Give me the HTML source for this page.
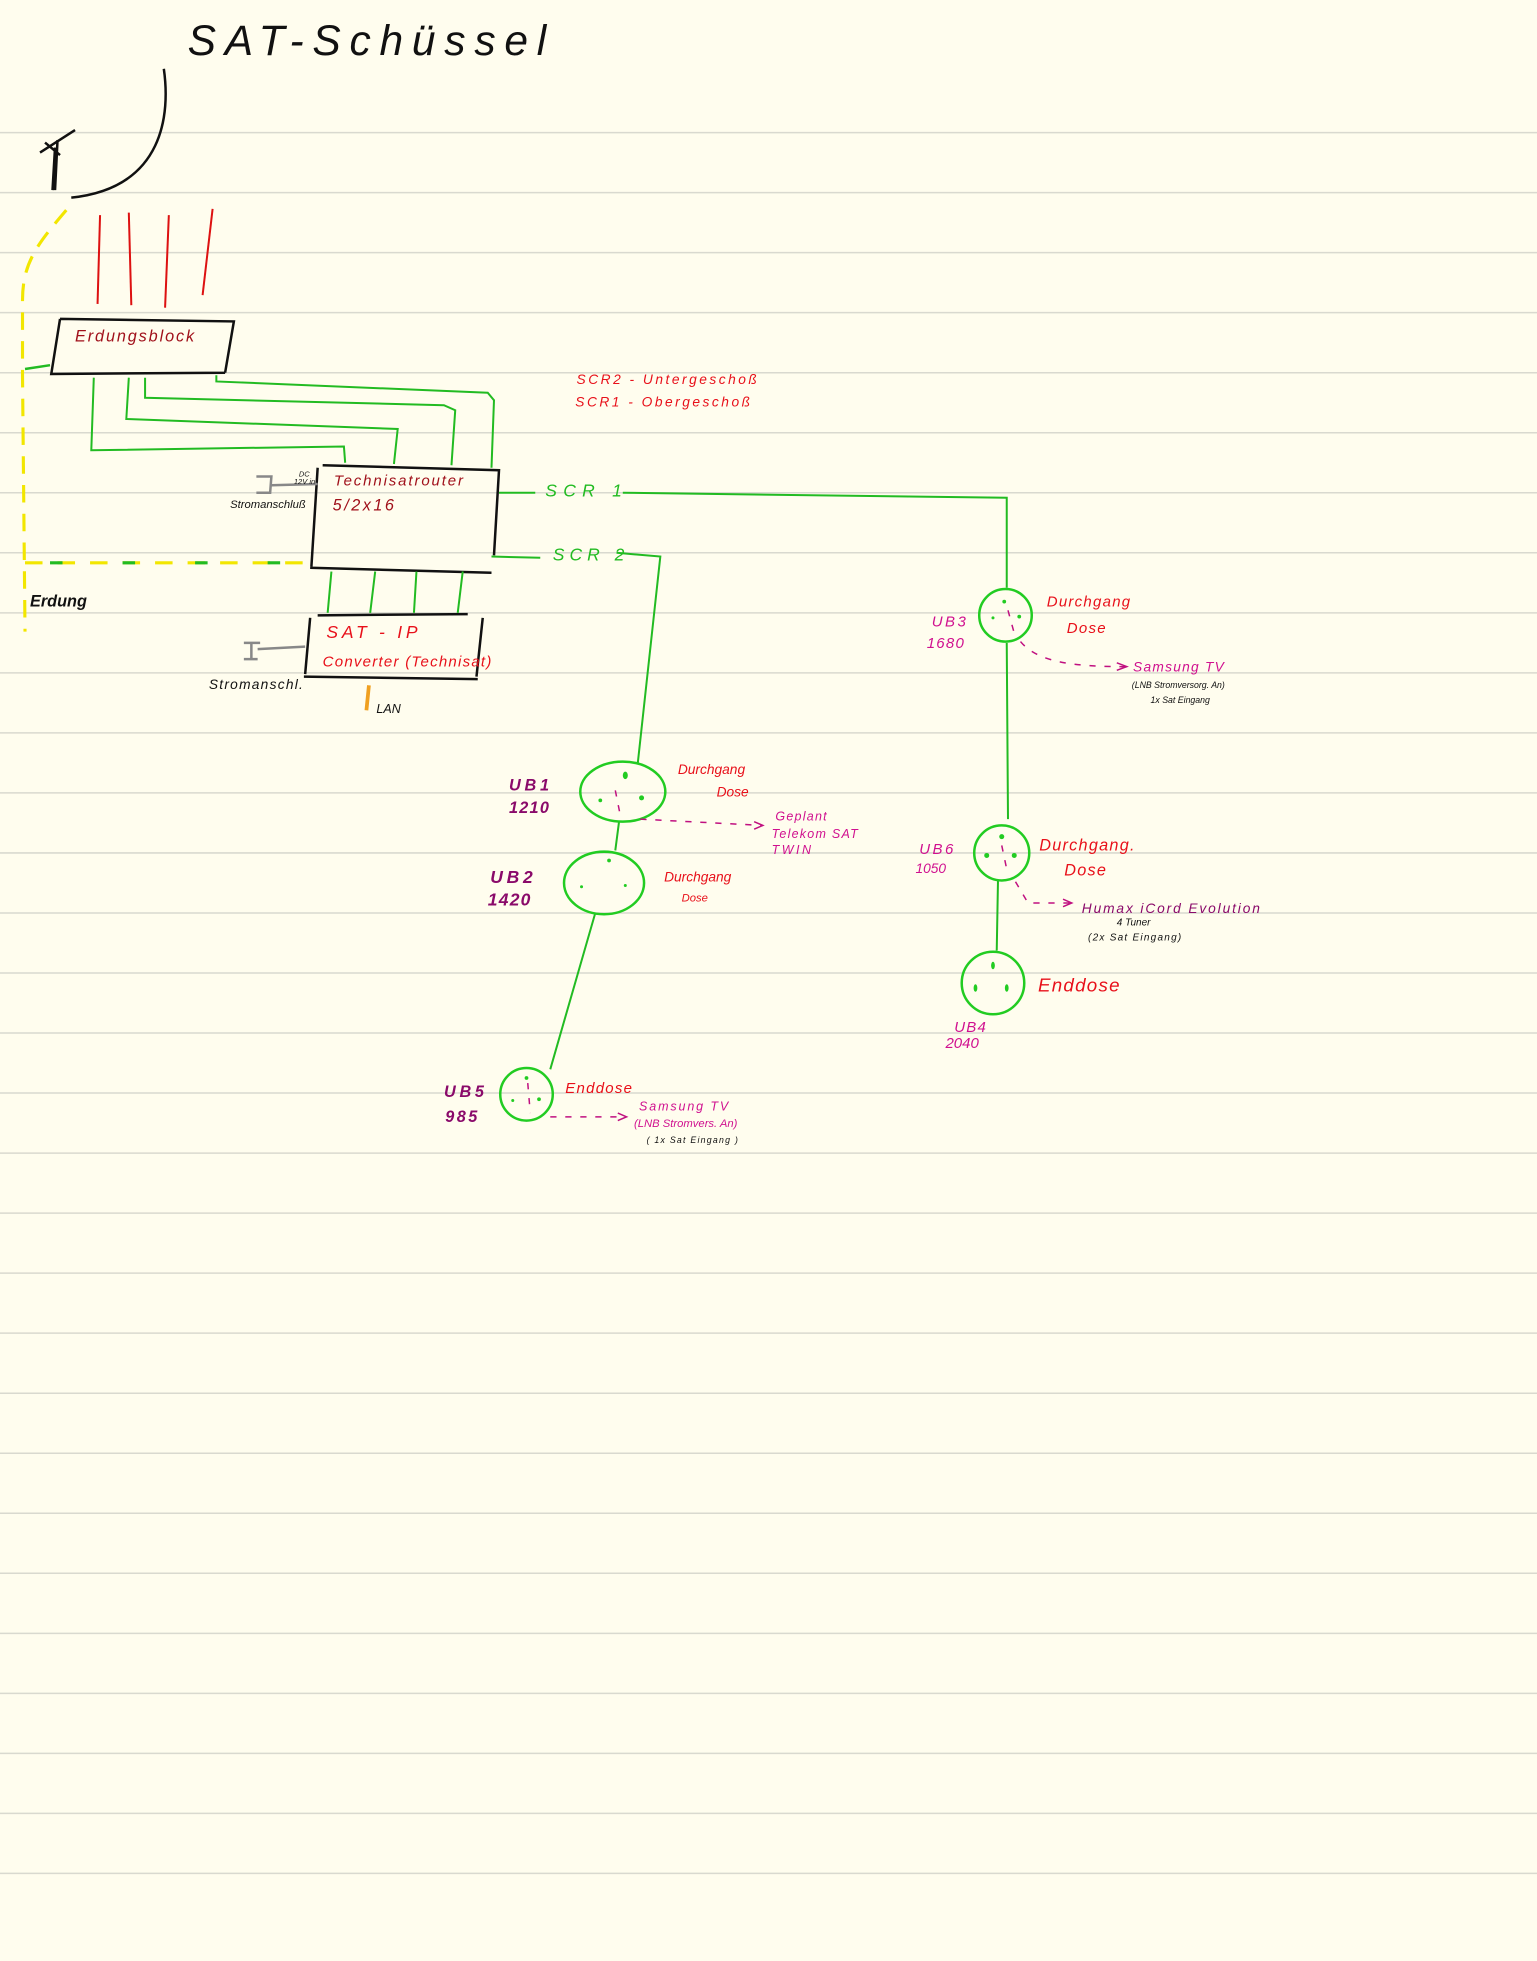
<!DOCTYPE html>
<html><head><meta charset="utf-8">
<style>
html,body{margin:0;padding:0;background:#fffdee;}
svg{display:block;}
text{font-family:"Liberation Sans",sans-serif;font-style:italic;}
.r{fill:#e8101a;}
.dr{fill:#a0101a;}
.m{fill:#d0108f;}
.p{fill:#8a0a6a;font-weight:bold;}
.g{fill:#22bb22;}
.k{fill:#111;}
</style></head>
<body>
<svg width="1537" height="1961" viewBox="0 0 1229 1568" xmlns="http://www.w3.org/2000/svg">
<rect width="1229" height="1568" fill="#fffdee"/>
<g stroke="#d9d9cf" stroke-width="1.2">
<line x1="0" y1="106" x2="1229" y2="106"/><line x1="0" y1="154" x2="1229" y2="154"/><line x1="0" y1="202" x2="1229" y2="202"/><line x1="0" y1="250" x2="1229" y2="250"/><line x1="0" y1="298" x2="1229" y2="298"/><line x1="0" y1="346" x2="1229" y2="346"/><line x1="0" y1="394" x2="1229" y2="394"/><line x1="0" y1="442" x2="1229" y2="442"/><line x1="0" y1="490" x2="1229" y2="490"/><line x1="0" y1="538" x2="1229" y2="538"/><line x1="0" y1="586" x2="1229" y2="586"/><line x1="0" y1="634" x2="1229" y2="634"/><line x1="0" y1="682" x2="1229" y2="682"/><line x1="0" y1="730" x2="1229" y2="730"/><line x1="0" y1="778" x2="1229" y2="778"/><line x1="0" y1="826" x2="1229" y2="826"/><line x1="0" y1="874" x2="1229" y2="874"/><line x1="0" y1="922" x2="1229" y2="922"/><line x1="0" y1="970" x2="1229" y2="970"/><line x1="0" y1="1018" x2="1229" y2="1018"/><line x1="0" y1="1066" x2="1229" y2="1066"/><line x1="0" y1="1114" x2="1229" y2="1114"/><line x1="0" y1="1162" x2="1229" y2="1162"/><line x1="0" y1="1210" x2="1229" y2="1210"/><line x1="0" y1="1258" x2="1229" y2="1258"/><line x1="0" y1="1306" x2="1229" y2="1306"/><line x1="0" y1="1354" x2="1229" y2="1354"/><line x1="0" y1="1402" x2="1229" y2="1402"/><line x1="0" y1="1450" x2="1229" y2="1450"/><line x1="0" y1="1498" x2="1229" y2="1498"/>
</g>

<text x="150" y="44" class="k" font-size="34" letter-spacing="7">SAT-Schüssel</text>

<g fill="none" stroke="#111" stroke-width="2">
<path d="M131,55 C136,90 132,150 57,158"/>
<path d="M44,152 L46,112 M42,152 L44,118 M32,122 L60,104 M36,114 L48,124"/>
</g>

<path d="M53,168 C30,195 18,210 18,240 L18,300 L20,505" fill="none" stroke="#f2e600" stroke-width="2.5" stroke-dasharray="14,9"/>
<path d="M20,450 L245,450" fill="none" stroke="#f2e600" stroke-width="2.5" stroke-dasharray="14,12"/>
<path d="M20,450 L245,450" fill="none" stroke="#22bb22" stroke-width="2.5" stroke-dasharray="10,48" stroke-dashoffset="-20"/>
<path d="M20,295 L40,292" stroke="#22bb22" stroke-width="2" fill="none"/>

<g stroke="#dd1111" stroke-width="1.6" fill="none">
<line x1="80" y1="172" x2="78" y2="243"/><line x1="103" y1="170" x2="105" y2="244"/><line x1="135" y1="172" x2="132" y2="246"/><line x1="170" y1="167" x2="162" y2="236"/>
</g>

<g stroke="#111" stroke-width="2" fill="none">
<path d="M48,255 L187,257 L180,298 M48,255 L41,299 L180,298"/>
<path d="M258,372 L399,376 L395,444 M254,374 L249,453 M248,454 L393,458"/>
<path d="M254,492 L374,491 M248,494 L244,539 M386,494 L381,541 M243,541 L382,543"/>
</g>
<text x="60" y="273" class="dr" font-size="13" letter-spacing="1.5">Erdungsblock</text>

<g stroke="#22bb22" stroke-width="1.6" fill="none">
<path d="M75,302 L73,360 L275,357 L276,370"/>
<path d="M103,302 L101,335 L318,343 L315,371"/>
<path d="M116,302 L116,318 L355,324 L364,328 L361,372"/>
<path d="M173,300 L173,305 L390,314 L395,320 L393,374"/>
<path d="M265,457 L262,490 M300,457 L296,490 M333,457 L331,490 M370,457 L366,490"/>
<path d="M399,394 L428,394 M498,394 L805,398 L805,470"/>
<path d="M393,445 L432,446 M493,442 L528,445 L510,610"/>
<path d="M805,514 L806,655 M798,704 L797,760"/>
<path d="M495,657 L492,680 M476,730 L440,855"/>
</g>
<path d="M295,548 L293,568" stroke="#f0a020" stroke-width="3"/>

<g stroke="#888" stroke-width="2" fill="none">
<path d="M205,381 L217,381 L216,394 L205,394 M217,388 L254,387"/>
<path d="M195,514 L208,514 M201,514 L201,527 M195,527 L206,527 M206,519 L244,517"/>
</g>

<text x="267" y="388" class="dr" font-size="12" letter-spacing="1.5">Technisatrouter</text>
<text x="266" y="408" class="dr" font-size="13" letter-spacing="2">5/2x16</text>
<text x="239" y="381" class="k" font-size="6">DC</text>
<text x="235" y="387" class="k" font-size="6">12V in</text>
<text x="184" y="406" class="k" font-size="9">Stromanschluß</text>
<text x="261" y="510" class="r" font-size="14" letter-spacing="3">SAT - IP</text>
<text x="258" y="533" class="r" font-size="12" letter-spacing="1">Converter (Technisat)</text>
<text x="167" y="551" class="k" font-size="11" letter-spacing="1">Stromanschl.</text>
<text x="301" y="570" class="k" font-size="10">LAN</text>
<text x="24" y="485" class="k" font-size="13" font-weight="bold">Erdung</text>

<text x="436" y="397" class="g" font-size="14" letter-spacing="5">SCR 1</text>
<text x="442" y="448" class="g" font-size="14" letter-spacing="4">SCR 2</text>
<text x="461" y="307" class="r" font-size="11" letter-spacing="2">SCR2 - Untergeschoß</text>
<text x="460" y="325" class="r" font-size="11" letter-spacing="2">SCR1 - Obergeschoß</text>

<g stroke="#22cc22" stroke-width="2" fill="none">
<ellipse cx="804" cy="492" rx="21" ry="21"/>
<ellipse cx="801" cy="682" rx="22" ry="22"/>
<ellipse cx="794" cy="786" rx="25" ry="25"/>
<ellipse cx="498" cy="633" rx="34" ry="24"/>
<ellipse cx="483" cy="706" rx="32" ry="25"/>
<ellipse cx="421" cy="875" rx="21" ry="21"/>
</g>
<g fill="#22cc22">
<circle cx="803" cy="481" r="1.5"/><circle cx="794" cy="494" r="1.2"/><circle cx="815" cy="493" r="1.5"/>
<circle cx="801" cy="669" r="2"/><circle cx="789" cy="684" r="2"/><circle cx="811" cy="684" r="2"/>
<ellipse cx="794" cy="772" rx="1.5" ry="3"/><ellipse cx="780" cy="790" rx="1.5" ry="3"/><ellipse cx="805" cy="790" rx="1.5" ry="3"/>
<ellipse cx="500" cy="620" rx="2" ry="3"/><circle cx="480" cy="640" r="1.5"/><circle cx="513" cy="638" r="2"/>
<circle cx="487" cy="688" r="1.5"/><circle cx="465" cy="709" r="1.2"/><circle cx="500" cy="708" r="1.2"/>
<circle cx="421" cy="862" r="1.5"/><circle cx="410" cy="880" r="1.2"/><circle cx="431" cy="879" r="1.5"/>
</g>
<g stroke="#c01080" stroke-width="1.2" fill="none" stroke-dasharray="5,7">
<path d="M806,488 L812,510"/><path d="M816,513 C830,530 860,533 900,533"/>
<path d="M801,676 L805,695"/><path d="M812,705 L822,722 L857,722"/>
<path d="M492,632 L496,652"/><path d="M512,655 L610,660"/>
<path d="M422,866 L424,890"/><path d="M440,893 L500,893"/>
</g>
<g stroke="#c01080" stroke-width="1.2" fill="none">
<path d="M893,530 L901,533 L893,536"/><path d="M850,719 L857,722 L850,725"/><path d="M603,657 L610,660 L603,663"/><path d="M494,890 L501,893 L494,896"/>
</g>

<text x="745" y="501" class="m" font-size="12" letter-spacing="2">UB3</text>
<text x="741" y="518" class="m" font-size="12" letter-spacing="1">1680</text>
<text x="837" y="485" class="r" font-size="12" letter-spacing="1">Durchgang</text>
<text x="853" y="506" class="r" font-size="12" letter-spacing="1">Dose</text>
<text x="906" y="537" class="m" font-size="11" letter-spacing="1">Samsung TV</text>
<text x="905" y="550" class="k" font-size="7">(LNB Stromversorg. An)</text>
<text x="920" y="562" class="k" font-size="7">1x Sat Eingang</text>

<text x="407" y="632" class="p" font-size="13" letter-spacing="3">UB1</text>
<text x="407" y="650" class="p" font-size="13" letter-spacing="1">1210</text>
<text x="542" y="619" class="r" font-size="11">Durchgang</text>
<text x="573" y="637" class="r" font-size="11">Dose</text>
<text x="620" y="656" class="m" font-size="10" letter-spacing="1">Geplant</text>
<text x="617" y="670" class="m" font-size="10" letter-spacing="1">Telekom SAT</text>
<text x="617" y="683" class="m" font-size="10" letter-spacing="2">TWIN</text>

<text x="392" y="706" class="p" font-size="14" letter-spacing="3">UB2</text>
<text x="390" y="724" class="p" font-size="14" letter-spacing="1">1420</text>
<text x="531" y="705" class="r" font-size="11">Durchgang</text>
<text x="545" y="721" class="r" font-size="9">Dose</text>

<text x="735" y="683" class="m" font-size="12" letter-spacing="2">UB6</text>
<text x="732" y="698" class="m" font-size="11">1050</text>
<text x="831" y="680" class="r" font-size="13" letter-spacing="1">Durchgang.</text>
<text x="851" y="700" class="r" font-size="13" letter-spacing="1">Dose</text>
<text x="865" y="730" class="p" font-size="11" letter-spacing="1.5" style="font-weight:normal">Humax iCord Evolution</text>
<text x="893" y="740" class="k" font-size="8">4 Tuner</text>
<text x="870" y="752" class="k" font-size="8" letter-spacing="1">(2x Sat Eingang)</text>

<text x="830" y="793" class="r" font-size="15" letter-spacing="1">Enddose</text>
<text x="763" y="825" class="m" font-size="12" letter-spacing="1">UB4</text>
<text x="756" y="838" class="m" font-size="12">2040</text>

<text x="355" y="877" class="p" font-size="13" letter-spacing="3">UB5</text>
<text x="356" y="897" class="p" font-size="13" letter-spacing="2">985</text>
<text x="452" y="874" class="r" font-size="12" letter-spacing="1">Enddose</text>
<text x="511" y="888" class="m" font-size="10" letter-spacing="1.5">Samsung TV</text>
<text x="507" y="901" class="m" font-size="9">(LNB Stromvers. An)</text>
<text x="517" y="914" class="k" font-size="7" letter-spacing="1">( 1x Sat Eingang )</text>
</svg>
</body></html>
